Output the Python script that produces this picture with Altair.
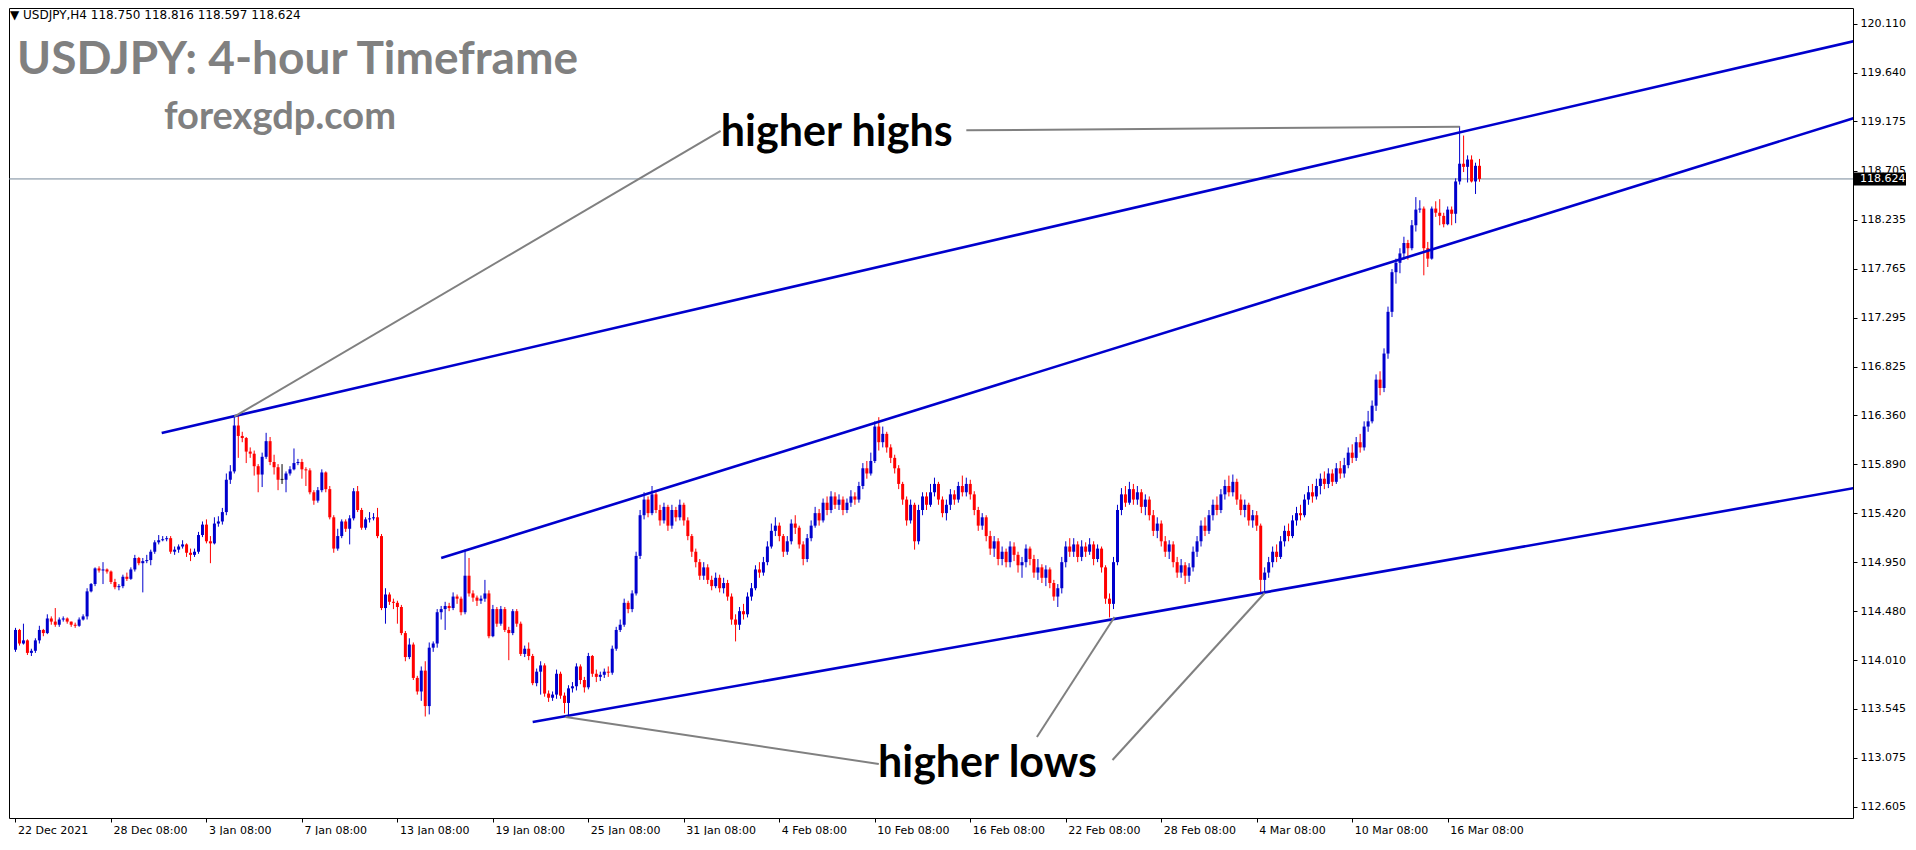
import json
import altair as alt
import pandas as pd

# ---------------- data ----------------
first_open = 114.11
close = [
    114.30, 114.17, 114.20, 114.08, 114.10, 114.20, 114.30, 114.27, 114.41, 114.38,
    114.35, 114.40, 114.41, 114.38, 114.35, 114.34, 114.40, 114.43, 114.67, 114.74,
    114.89, 114.87, 114.88, 114.86, 114.76, 114.71, 114.72, 114.81, 114.79, 114.88,
    114.99, 114.94, 114.96, 114.97, 115.05, 115.14, 115.16, 115.17, 115.18, 115.05,
    115.07, 115.10, 115.12, 115.04, 115.02, 115.05, 115.21, 115.31, 115.15, 115.13,
    115.32, 115.34, 115.43, 115.74, 115.82, 116.26, 116.16, 116.14, 116.01, 115.99,
    115.87, 115.79, 115.96, 116.11, 115.91, 115.86, 115.74, 115.74, 115.80, 115.84,
    115.90, 115.91, 115.84, 115.83, 115.62, 115.54, 115.64, 115.81, 115.65, 115.38,
    115.08, 115.20, 115.34, 115.27, 115.37, 115.63, 115.45, 115.28, 115.36, 115.37,
    115.38, 115.20, 114.51, 114.64, 114.57, 114.56, 114.52, 114.27, 114.04, 114.16,
    113.84, 113.71, 113.91, 113.57, 114.13, 114.17, 114.47, 114.50, 114.53, 114.51,
    114.62, 114.60, 114.47, 114.82, 114.65, 114.61, 114.58, 114.60, 114.65, 114.24,
    114.50, 114.36, 114.50, 114.30, 114.27, 114.48, 114.36, 114.07, 114.12, 114.05,
    113.79, 113.90, 113.96, 113.69, 113.65, 113.68, 113.88, 113.67, 113.60, 113.74,
    113.76, 113.95, 113.82, 113.75, 114.05, 113.88, 113.85, 113.87, 113.90, 113.89,
    114.12, 114.30, 114.35, 114.56, 114.50, 114.65, 115.01, 115.40, 115.55, 115.42,
    115.60, 115.45, 115.35, 115.48, 115.30, 115.45, 115.38, 115.50, 115.35, 115.20,
    115.05, 114.95, 114.82, 114.90, 114.78, 114.72, 114.80, 114.70, 114.75, 114.62,
    114.40, 114.35, 114.48, 114.45, 114.62, 114.70, 114.88, 114.85, 114.95, 115.10,
    115.25, 115.30, 115.20, 115.05, 115.15, 115.32, 115.28, 115.12, 114.98, 115.18,
    115.30, 115.42, 115.35, 115.52, 115.45, 115.58, 115.50, 115.55, 115.45, 115.52,
    115.58, 115.55, 115.68, 115.85, 115.80, 115.92, 116.25, 116.10, 116.18, 116.05,
    115.95, 115.85, 115.70, 115.55, 115.35, 115.50, 115.15, 115.45, 115.58, 115.50,
    115.62, 115.70, 115.55, 115.42, 115.50, 115.60, 115.55, 115.68, 115.62, 115.70,
    115.60, 115.45, 115.30, 115.38, 115.20, 115.08, 115.15, 114.98, 115.05, 114.95,
    115.10, 115.02, 114.92, 114.95, 115.08, 114.98, 114.85, 114.90, 114.80, 114.88,
    114.75, 114.62, 114.70, 114.95, 115.10, 115.05, 115.12, 115.00, 115.10, 115.05,
    115.12, 114.98, 115.08, 114.90, 114.60, 114.55, 114.95, 115.45, 115.60, 115.52,
    115.65, 115.55, 115.62, 115.48, 115.55, 115.40, 115.25, 115.32, 115.15, 115.05,
    115.12, 114.95, 114.85, 114.92, 114.82, 114.90, 115.05, 115.15, 115.30, 115.25,
    115.40, 115.50, 115.45, 115.60, 115.68, 115.62, 115.72, 115.55, 115.45, 115.50,
    115.35, 115.40, 115.30, 114.78, 114.85, 114.95, 115.05, 115.00, 115.15, 115.25,
    115.20, 115.35, 115.42, 115.40, 115.55, 115.62, 115.58, 115.68, 115.75, 115.70,
    115.80, 115.72, 115.85, 115.80, 115.88, 116.00, 115.95, 116.10, 116.05, 116.25,
    116.30, 116.45, 116.70, 116.62, 116.95, 117.35, 117.73, 117.82, 117.91, 118.01,
    117.96, 118.18, 118.33, 118.34, 117.96, 117.86, 118.34, 118.30, 118.27, 118.19,
    118.33, 118.29, 118.60, 118.77, 118.74, 118.81, 118.60, 118.75, 118.624,
]
high = [
    114.32, 114.31, 114.36, 114.21, 114.12, 114.22, 114.34, 114.31, 114.45, 114.43,
    114.51, 114.42, 114.43, 114.42, 114.38, 114.37, 114.42, 114.45, 114.70, 114.75,
    114.90, 114.91, 114.95, 114.89, 114.87, 114.79, 114.74, 114.83, 114.85, 114.90,
    115.02, 115.00, 114.99, 115.02, 115.07, 115.16, 115.21, 115.20, 115.20, 115.20,
    115.10, 115.12, 115.16, 115.13, 115.08, 115.08, 115.24, 115.34, 115.36, 115.20,
    115.38, 115.39, 115.47, 115.80, 115.88, 116.35, 116.35, 116.20, 116.15, 116.05,
    116.02, 115.89, 116.00, 116.19, 116.15, 115.98, 115.89, 115.89, 115.82, 115.87,
    116.04, 115.94, 115.94, 115.86, 115.85, 115.64, 115.67, 115.84, 115.82, 115.68,
    115.40, 115.27, 115.36, 115.36, 115.40, 115.66, 115.68, 115.47, 115.38, 115.43,
    115.42, 115.47, 115.22, 114.70, 114.66, 114.60, 114.58, 114.54, 114.29, 114.22,
    114.18, 113.86, 113.95, 114.00, 114.18, 114.19, 114.50, 114.53, 114.57, 114.56,
    114.66, 114.64, 114.62, 115.07, 114.99, 114.68, 114.63, 114.63, 114.78, 114.68,
    114.54, 114.52, 114.53, 114.52, 114.33, 114.50, 114.50, 114.38, 114.15, 114.18,
    114.07, 113.93, 114.00, 113.98, 113.72, 113.71, 113.92, 113.90, 113.70, 113.77,
    113.80, 113.98, 113.97, 113.85, 114.08, 114.06, 113.92, 113.90, 113.93, 113.95,
    114.15, 114.33, 114.40, 114.60, 114.58, 114.68, 115.05, 115.45, 115.62, 115.58,
    115.68, 115.62, 115.50, 115.52, 115.50, 115.50, 115.48, 115.55, 115.52, 115.38,
    115.22, 115.08, 114.98, 114.95, 114.93, 114.82, 114.85, 114.83, 114.80, 114.78,
    114.65, 114.45, 114.52, 114.55, 114.66, 114.75, 114.92, 114.95, 115.00, 115.15,
    115.32, 115.38, 115.33, 115.22, 115.20, 115.36, 115.40, 115.30, 115.15, 115.22,
    115.35, 115.48, 115.46, 115.56, 115.58, 115.63, 115.62, 115.60, 115.58, 115.56,
    115.64, 115.62, 115.72, 115.90, 115.92, 116.00, 116.30, 116.34, 116.25, 116.20,
    116.08, 115.98, 115.88, 115.72, 115.58, 115.55, 115.52, 115.50, 115.62, 115.62,
    115.70, 115.76, 115.72, 115.58, 115.55, 115.65, 115.64, 115.72, 115.78, 115.76,
    115.74, 115.63, 115.48, 115.42, 115.40, 115.25, 115.20, 115.18, 115.10, 115.08,
    115.15, 115.14, 115.05, 115.00, 115.12, 115.10, 115.02, 114.98, 114.93, 114.92,
    114.90, 114.78, 114.74, 115.00, 115.15, 115.18, 115.18, 115.15, 115.16, 115.14,
    115.18, 115.15, 115.12, 115.10, 114.92, 114.65, 115.00, 115.50, 115.66, 115.68,
    115.72, 115.70, 115.68, 115.65, 115.60, 115.58, 115.45, 115.38, 115.35, 115.20,
    115.16, 115.15, 115.00, 114.98, 114.95, 114.94, 115.10, 115.20, 115.35, 115.38,
    115.45, 115.55, 115.58, 115.65, 115.74, 115.78, 115.79, 115.75, 115.60, 115.55,
    115.52, 115.45, 115.44, 115.32, 114.90, 115.00, 115.10, 115.12, 115.20, 115.30,
    115.32, 115.40, 115.48, 115.50, 115.60, 115.68, 115.70, 115.75, 115.80, 115.82,
    115.85, 115.84, 115.90, 115.92, 115.95, 116.05, 116.08, 116.15, 116.18, 116.30,
    116.40, 116.50, 116.75, 116.78, 117.00, 117.40, 117.76, 117.86, 117.96, 118.07,
    118.04, 118.23, 118.45, 118.42, 118.36, 118.02, 118.36, 118.41, 118.43, 118.30,
    118.36, 118.36, 118.63, 119.13, 119.04, 118.85, 118.85, 118.78, 118.816,
]
low = [
    114.09, 114.15, 114.16, 114.06, 114.05, 114.08, 114.17, 114.24, 114.26, 114.35,
    114.33, 114.33, 114.38, 114.36, 114.33, 114.32, 114.33, 114.39, 114.40, 114.66,
    114.72, 114.85, 114.74, 114.84, 114.74, 114.69, 114.68, 114.70, 114.77, 114.78,
    114.86, 114.92, 114.66, 114.94, 114.92, 115.03, 115.12, 115.15, 115.15, 115.03,
    115.02, 115.04, 115.08, 115.00, 114.96, 115.00, 115.03, 115.19, 115.13, 114.94,
    115.12, 115.29, 115.31, 115.40, 115.70, 115.80, 115.95, 116.10, 115.90, 115.95,
    115.78, 115.62, 115.67, 115.94, 115.88, 115.79, 115.64, 115.70, 115.62, 115.78,
    115.83, 115.88, 115.75, 115.68, 115.60, 115.50, 115.52, 115.62, 115.62, 115.36,
    115.04, 115.06, 115.18, 115.24, 115.12, 115.35, 115.43, 115.26, 115.26, 115.33,
    115.35, 115.18, 114.49, 114.36, 114.54, 114.50, 114.36, 114.25, 114.00, 114.02,
    113.82, 113.68, 113.62, 113.47, 113.49, 114.09, 114.13, 114.40, 114.30, 114.48,
    114.49, 114.55, 114.44, 114.45, 114.62, 114.57, 114.53, 114.55, 114.57, 114.22,
    114.23, 114.33, 114.34, 114.28, 114.01, 114.25, 114.33, 114.05, 114.04, 114.01,
    113.77, 113.76, 113.68, 113.66, 113.61, 113.62, 113.64, 113.64, 113.50, 113.47,
    113.70, 113.72, 113.78, 113.70, 113.73, 113.85, 113.80, 113.81, 113.84, 113.85,
    113.87, 114.10, 114.28, 114.33, 114.46, 114.47, 114.63, 114.98, 115.36, 115.38,
    115.40, 115.42, 115.30, 115.32, 115.25, 115.27, 115.34, 115.35, 115.30, 115.16,
    115.00, 114.90, 114.78, 114.78, 114.74, 114.68, 114.70, 114.66, 114.65, 114.58,
    114.35, 114.19, 114.30, 114.40, 114.42, 114.58, 114.68, 114.80, 114.82, 114.92,
    115.08, 115.20, 115.15, 115.00, 115.02, 115.12, 115.22, 115.08, 114.92, 114.95,
    115.15, 115.28, 115.30, 115.33, 115.40, 115.42, 115.46, 115.45, 115.40, 115.42,
    115.48, 115.50, 115.52, 115.65, 115.75, 115.78, 115.90, 116.02, 116.05, 116.00,
    115.90, 115.80, 115.65, 115.50, 115.30, 115.32, 115.07, 115.12, 115.40, 115.45,
    115.48, 115.58, 115.50, 115.38, 115.35, 115.45, 115.50, 115.52, 115.58, 115.58,
    115.55, 115.40, 115.25, 115.26, 115.15, 115.02, 115.00, 114.92, 114.92, 114.90,
    114.90, 114.96, 114.85, 114.80, 114.90, 114.92, 114.80, 114.78, 114.75, 114.72,
    114.70, 114.58, 114.52, 114.65, 114.90, 115.00, 115.00, 114.95, 114.96, 115.00,
    115.02, 114.92, 114.95, 114.85, 114.55, 114.42, 114.50, 114.92, 115.40, 115.48,
    115.50, 115.50, 115.50, 115.42, 115.40, 115.35, 115.20, 115.18, 115.10, 115.00,
    114.98, 114.90, 114.80, 114.80, 114.74, 114.76, 114.86, 115.00, 115.10, 115.20,
    115.22, 115.35, 115.40, 115.42, 115.55, 115.58, 115.58, 115.50, 115.40, 115.38,
    115.30, 115.28, 115.25, 114.65, 114.65, 114.80, 114.90, 114.95, 114.98, 115.10,
    115.15, 115.18, 115.30, 115.35, 115.38, 115.50, 115.52, 115.55, 115.60, 115.65,
    115.66, 115.68, 115.70, 115.75, 115.76, 115.85, 115.90, 115.92, 116.00, 116.02,
    116.20, 116.28, 116.40, 116.55, 116.58, 116.90, 117.30, 117.62, 117.72, 117.85,
    117.85, 117.94, 118.12, 118.30, 117.70, 117.78, 117.85, 118.26, 118.18, 118.16,
    118.18, 118.18, 118.20, 118.57, 118.69, 118.59, 118.59, 118.48, 118.597,
]

tick_bars = [0, 24, 48, 72, 96, 120, 144, 168, 192, 216, 240, 264, 288, 312, 336, 360]
tick_labels = ["22 Dec 2021", "28 Dec 08:00", "3 Jan 08:00", "7 Jan 08:00", "13 Jan 08:00",
               "19 Jan 08:00", "25 Jan 08:00", "31 Jan 08:00", "4 Feb 08:00", "10 Feb 08:00",
               "16 Feb 08:00", "22 Feb 08:00", "28 Feb 08:00", "4 Mar 08:00", "10 Mar 08:00",
               "16 Mar 08:00"]
price_ticks = [120.110, 119.640, 119.175, 118.705, 118.235, 117.765, 117.295, 116.825, 116.360,
               115.890, 115.420, 114.950, 114.480, 114.010, 113.545, 113.075, 112.605]
current_price = 118.624
header_text = "\u25bc USDJPY,H4  118.750 118.816 118.597 118.624"
title_text = "USDJPY: 4-hour Timeframe"
site_text = "forexgdp.com"

# trend lines (bar index, price)
trend_id = ["upper", "upper", "middle", "middle", "lower", "lower"]
trend_bar = [36.75, 462.25, 107.0, 462.25, 130.0, 462.25]
trend_price = [116.189, 119.947, 114.990, 119.209, 113.418, 115.661]

# grey callout lines
call_id = ["hh1", "hh1", "hh2", "hh2", "hl1", "hl1", "hl2", "hl2", "hl3", "hl3"]
call_bar = [177.25, 55.0, 239.0, 363.0, 217.0, 138.25, 256.75, 276.25, 275.75, 314.0]
call_price = [119.084, 116.345, 119.090, 119.125, 113.015, 113.466, 113.274, 114.424, 113.053, 114.654]

note_text = ["higher highs", "higher lows"]
note_bar = [177.3, 216.8]
note_price = [119.065, 113.015]

# ---------------- frames ----------------
n = len(close)
opens = [first_open] + close[:-1]
candles = pd.DataFrame({"bar": list(range(n)), "o": opens, "h": high, "l": low, "c": close})
trend = pd.DataFrame({"id": trend_id, "bar": trend_bar, "price": trend_price})
calls = pd.DataFrame({"id": call_id, "bar": call_bar, "price": call_price})
notes = pd.DataFrame({"label": note_text, "bar": note_bar, "price": note_price})
cur = pd.DataFrame({"p": [current_price], "top": [current_price + 0.063],
                    "bot": [current_price - 0.063], "label": [f"{current_price:.3f}"]})

W, H = 1844, 810
xs = alt.Scale(domain=[-0.375, 460.625], nice=False, zero=False)
ys = alt.Scale(domain=[112.497, 120.263], nice=False, zero=False)

label_expr = json.dumps(tick_labels) + "[round(datum.value / 24)]"
x_axis = alt.Axis(values=tick_bars, labelExpr=label_expr, orient="bottom", title=None,
                  grid=False, domain=False, tickSize=4, tickColor="black",
                  labelAlign="left", labelBaseline="top", labelPadding=2, labelOffset=2,
                  labelFont="DejaVu Sans", labelFontSize=11, labelColor="black",
                  labelFlush=False, labelOverlap=False)
y_axis = alt.Axis(values=price_ticks, format=".3f", orient="right", title=None,
                  grid=False, domain=False, tickSize=4, tickColor="black",
                  labelPadding=3, labelFont="DejaVu Sans", labelFontSize=11,
                  labelColor="black", labelOverlap=False, labelFlush=False, zindex=0)


def X(field):
    return alt.X(field, scale=xs, axis=x_axis)


def Y(field):
    return alt.Y(field, scale=ys, axis=y_axis)


dir_color = alt.Color("dir:N", legend=None,
                      scale=alt.Scale(domain=["up", "down", "flat"],
                                      range=["#0000CD", "#FF0000", "#000000"]))

base = alt.Chart(candles).transform_calculate(
    dir="datum.c > datum.o ? 'up' : (datum.c < datum.o ? 'down' : 'flat')",
    cb="abs(datum.c - datum.o) < 0.008 ? datum.o + 0.008 : datum.c",
)
wicks = base.mark_rule(strokeWidth=1).encode(
    x=X("bar:Q"), y=Y("l:Q"), y2="h:Q", color=dir_color)
bodies = base.mark_bar(size=3).encode(
    x=X("bar:Q"), y=Y("o:Q"), y2="cb:Q", color=dir_color)

price_line = alt.Chart(cur).mark_rule(color="#778899", strokeWidth=1).encode(y=Y("p:Q"))

trend_lines = alt.Chart(trend).mark_line(color="#0000CD", strokeWidth=2.6, clip=True).encode(
    x=X("bar:Q"), y=Y("price:Q"), detail="id:N")
call_lines = alt.Chart(calls).mark_line(color="#808080", strokeWidth=2, clip=True).encode(
    x=X("bar:Q"), y=Y("price:Q"), detail="id:N")
note_marks = alt.Chart(notes).mark_text(align="left", baseline="middle", font="Lato",
                                        fontWeight="bold", fontSize=43, color="black").encode(
    x=X("bar:Q"), y=Y("price:Q"), text="label:N")

box = alt.Chart(cur).mark_rect(color="black").encode(
    x=alt.value(W + 1), x2=alt.value(W + 53), y=Y("top:Q"), y2="bot:Q")
box_text = alt.Chart(cur).mark_text(align="left", baseline="middle", font="DejaVu Sans",
                                    fontSize=11, color="white").encode(
    x=alt.value(W + 7), y=Y("p:Q"), text="label:N")

one = pd.DataFrame({"k": [0]})
header = alt.Chart(one).mark_text(text=header_text, align="left", baseline="alphabetic",
                                  font="DejaVu Sans", fontSize=12, color="black").encode(
    x=alt.value(1), y=alt.value(11))
title = alt.Chart(one).mark_text(text=title_text, align="left", baseline="alphabetic",
                                 font="Lato", fontWeight="bold", fontSize=46,
                                 color="#808080").encode(x=alt.value(8), y=alt.value(66))
site = alt.Chart(one).mark_text(text=site_text, align="left", baseline="alphabetic",
                                font="Lato", fontWeight="bold", fontSize=38,
                                color="#808080").encode(x=alt.value(155), y=alt.value(121))

chart = alt.layer(
    price_line, wicks, bodies, trend_lines, call_lines, note_marks,
    box, box_text, header, title, site,
).properties(width=W, height=H, padding=0, background="white").configure_view(
    stroke="black", strokeWidth=1
)

chart.save("out.html", embed_options={"renderer": "svg", "actions": False})
